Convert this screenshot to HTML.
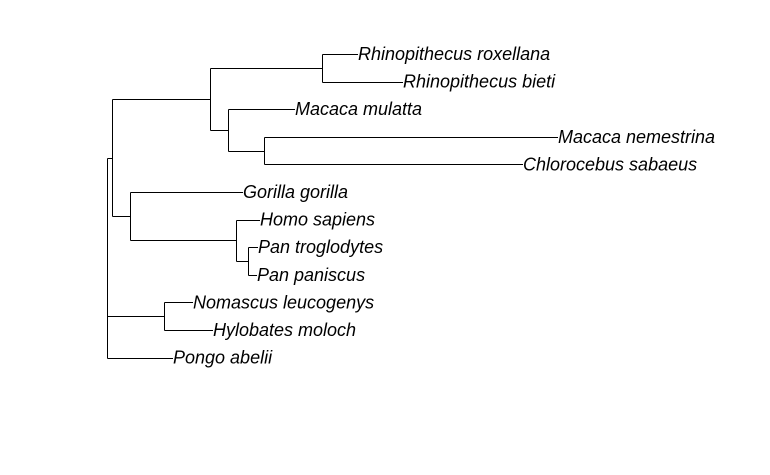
<!DOCTYPE html>
<html><head><meta charset="utf-8"><style>
html,body{margin:0;padding:0;background:#fff;}
svg{display:block;}
text{font-family:"Liberation Sans",sans-serif;font-style:italic;font-size:18px;fill:#000;}
</style></head><body>
<svg id="chart" width="770" height="475" viewBox="0 0 770 475" xmlns="http://www.w3.org/2000/svg"></svg>
<script>
// Tip labels (top-to-bottom order) and their depth from the root
const tipNames = ["Rhinopithecus roxellana","Rhinopithecus bieti","Macaca mulatta","Macaca nemestrina","Chlorocebus sabaeus","Gorilla gorilla","Homo sapiens","Pan troglodytes","Pan paniscus","Nomascus leucogenys","Hylobates moloch","Pongo abelii"];
const tipDepths = [251,296,188,451,416,136,153,151,150,86,106,66];
// Internal nodes (ids 12..21): depth and children
const nodeDepths = [0,5,103,215,121,157,23,129,141,57];
const nodeChildren = [[13,21,11],[14,18],[15,16],[0,1],[2,17],[3,4],[5,19],[6,20],[7,8],[9,10]];
const x0 = 107, yTop = 54, yStep = 27.6;
function xScale(d){ return x0 + d; }
function yTip(i){ return yTop + i * yStep; }

const svg = document.getElementById('chart');
const NS = "http://www.w3.org/2000/svg";
const nTip = tipNames.length;
const yPos = {};
for (let i = 0; i < nTip; i++) yPos[i] = yTip(i);
function depthOf(id){ return id < nTip ? tipDepths[id] : nodeDepths[id - nTip]; }
function computeY(id){
  if (id < nTip) return yPos[id];
  const ch = nodeChildren[id - nTip].map(computeY);
  yPos[id] = (Math.min(...ch) + Math.max(...ch)) / 2;
  return yPos[id];
}
computeY(nTip);
function line(x1,y1,x2,y2,name){
  const l = document.createElementNS(NS,'line');
  l.setAttribute('x1',x1);l.setAttribute('y1',y1);l.setAttribute('x2',x2);l.setAttribute('y2',y2);
  l.setAttribute('stroke','#000');l.setAttribute('stroke-width','1');
  
  
  svg.appendChild(l);
}
for (let k = 0; k < nodeChildren.length; k++){
  const px = Math.round(xScale(nodeDepths[k])) + 0.5;
  const ys = nodeChildren[k].map(c => yPos[c]);
  line(px, Math.round(Math.min(...ys))+0.5, px, Math.round(Math.max(...ys))+0.5, 'node-vertical');
  nodeChildren[k].forEach(c => {
    const cy = Math.round(yPos[c]) + 0.5;
    line(px, cy, Math.round(xScale(depthOf(c))), cy, 'branch');
  });
}
for (let i = 0; i < nTip; i++){
  const t = document.createElementNS(NS,'text');
  t.setAttribute('x', xScale(tipDepths[i]));
  t.setAttribute('y', yPos[i] + 6);
  t.textContent = tipNames[i];
  
  
  svg.appendChild(t);
}
</script>
</body></html>
